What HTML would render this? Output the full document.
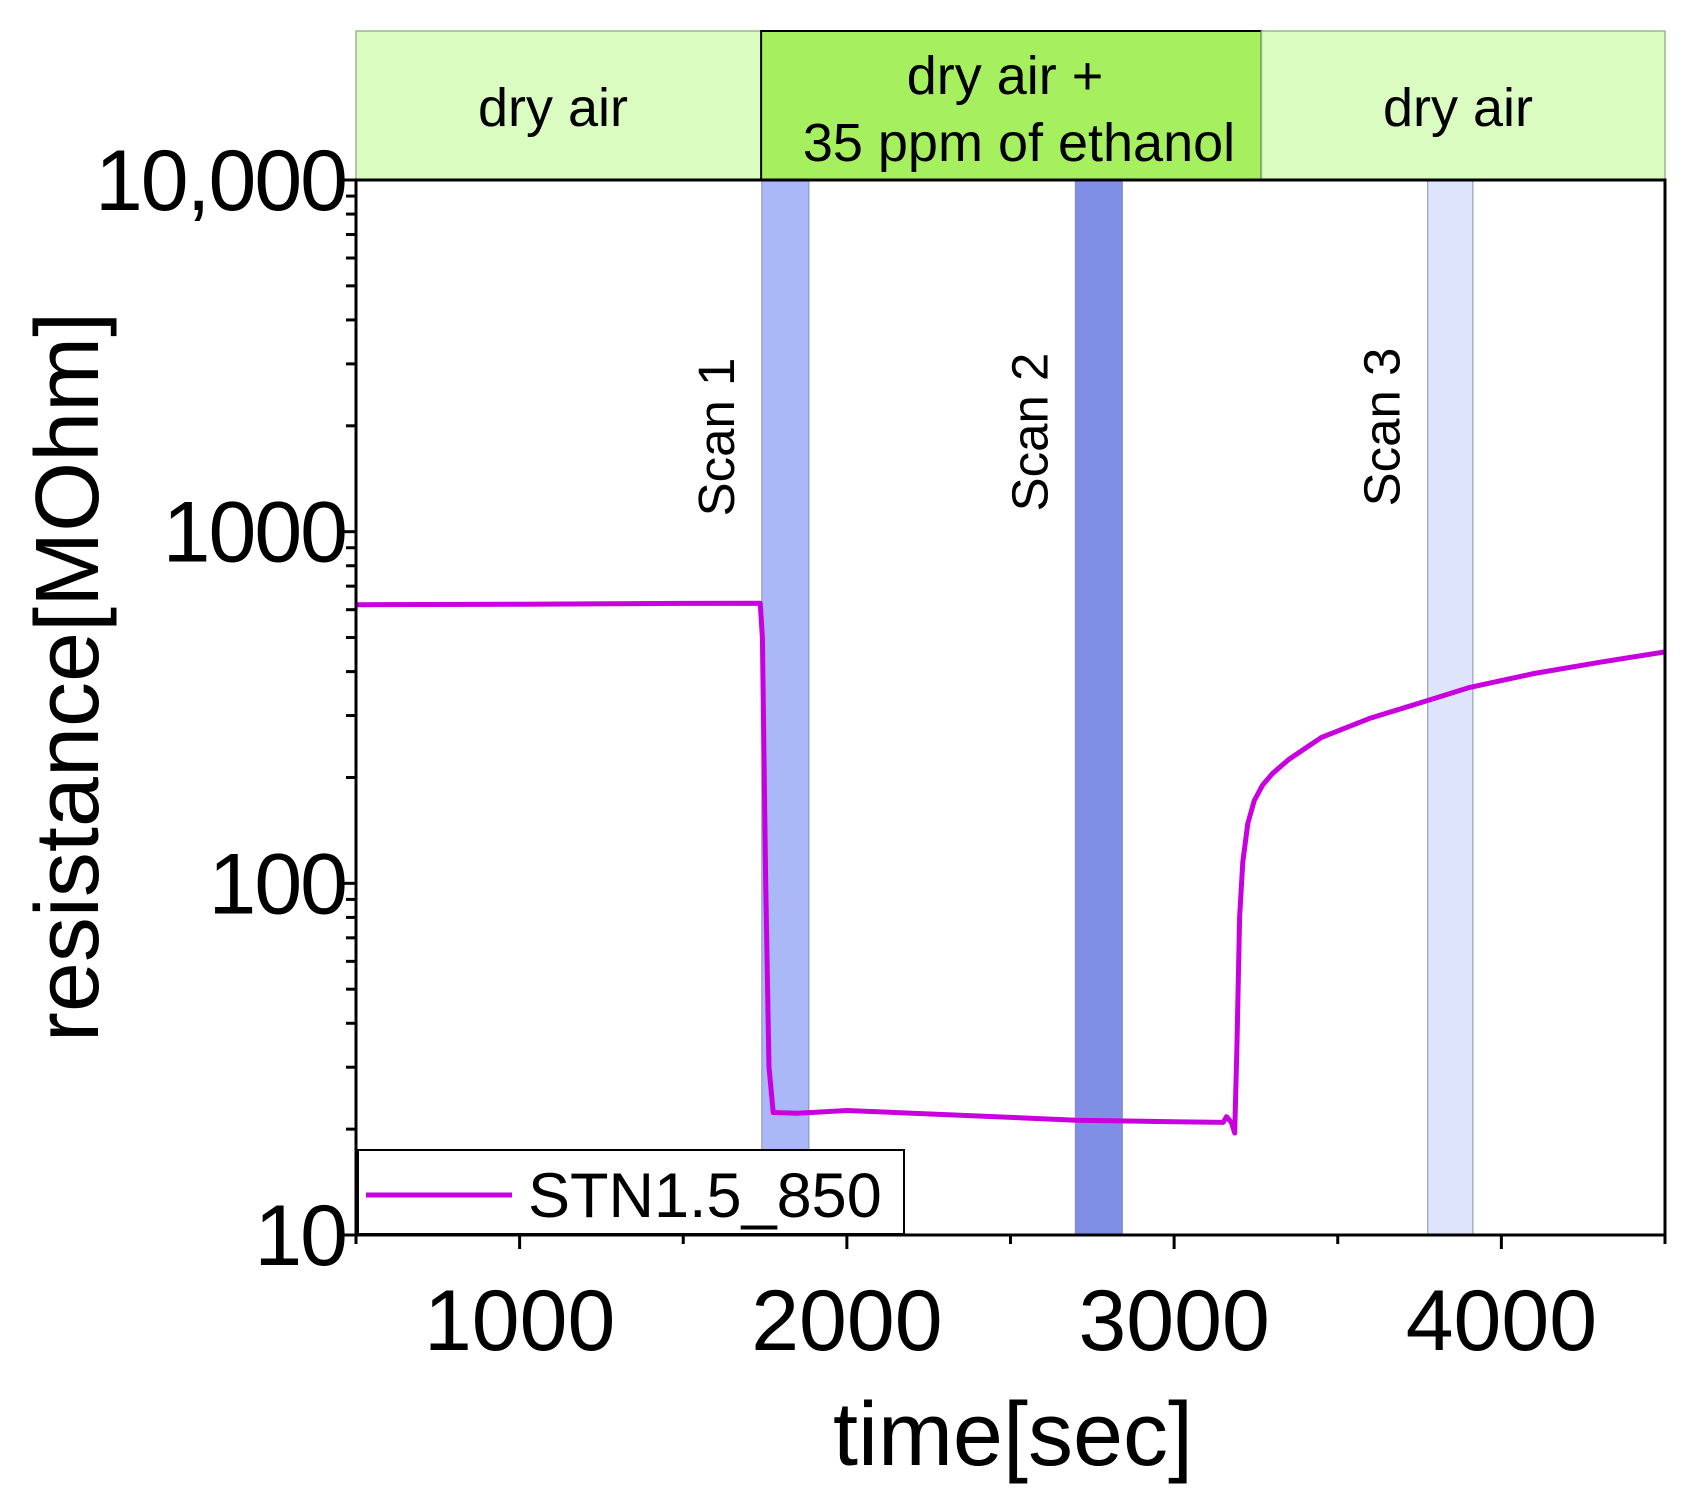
<!DOCTYPE html>
<html><head><meta charset="utf-8">
<style>
html,body{margin:0;padding:0;background:#fff;}
svg{display:block;font-family:"Liberation Sans",Arial,sans-serif;}
</style></head>
<body>
<svg id="chart" width="1699" height="1510" viewBox="0 0 1699 1510" xmlns="http://www.w3.org/2000/svg">
<rect width="1699" height="1510" fill="#fff"/>
<g id="bands"></g>
<g id="header"></g>
<g id="series"></g>
<g id="axes"></g>
<g id="labels"></g>
</svg>
<script>
// ---- data ----
const times = [500, 1000, 1500, 1735, 1742, 1752, 1762, 1775, 1850, 2000, 2300, 2700, 3000, 3150, 3160, 3175, 3185, 3192, 3200, 3210, 3225, 3245, 3270, 3300, 3350, 3450, 3600, 3770, 3900, 4100, 4300, 4500];
const resistance = [620, 622, 625, 626, 500, 100, 30, 22.3, 22.2, 22.6, 22.0, 21.2, 21.0, 20.9, 21.7, 20.9, 19.5, 35, 80, 115, 148, 172, 190, 205, 225, 260, 295, 330, 360, 395, 425, 455];
const xTicks = [1000, 2000, 3000, 4000];
const xTickLabels = ["1000", "2000", "3000", "4000"];
const yTicks = [10, 100, 1000, 10000];
const yTickLabels = ["10", "100", "1000", "10,000"];
const scanStarts = [1740, 2698, 3775];
const scanEnds = [1884, 2842, 3913];
const scanNames = ["Scan 1", "Scan 2", "Scan 3"];
const phaseStarts = [500, 1738, 3267];
const phaseEnds = [1738, 3267, 4500];

// ---- axis functions ----
const X0 = 356, X1 = 1665, Y0 = 1235, Y1 = 180;
const xMin = 500, xMax = 4500, yMinLog = 1, yMaxLog = 4;
const xs = t => X0 + (t - xMin) / (xMax - xMin) * (X1 - X0);
const ys = v => Y0 - (Math.log10(v) - yMinLog) / (yMaxLog - yMinLog) * (Y0 - Y1);
const NS = "http://www.w3.org/2000/svg";
function mk(tag, attrs, parent, text) {
  const e = document.createElementNS(NS, tag);
  for (const k in attrs) e.setAttribute(k, attrs[k]);
  if (text !== undefined) e.textContent = text;
  parent.appendChild(e);
  return e;
}
const bands = document.getElementById('bands');
const header = document.getElementById('header');
const series = document.getElementById('series');
const axes = document.getElementById('axes');
const labels = document.getElementById('labels');

// scan bands
const scanFills = ["#aab8f8", "#7f8fe6", "#dde4fb"];
scanStarts.forEach((s, i) => {
  const r = mk('rect', {x: xs(s), y: Y1, width: xs(scanEnds[i]) - xs(s), height: Y0 - Y1, fill: scanFills[i], stroke: "#8890b0", "stroke-width": 1}, bands);
  
  
  const cx = (xs(s) - 28);
  const t = mk('text', {x: 0, y: 0, transform: `translate(${cx},${437 - i*5}) rotate(-90)`, "font-size": 51, "text-anchor": "middle", fill: "#000"}, bands, scanNames[i]);
  
  
});

// header phases
const phaseFills = ["#dafcc0", "#a6f060", "#dafcc0"];
phaseStarts.forEach((s, i) => {
  const r = mk('rect', {x: xs(s), y: 31, width: xs(phaseEnds[i]) - xs(s), height: Y1 - 31, fill: phaseFills[i], stroke: i === 1 ? "#000" : "#9ab88a", "stroke-width": i === 1 ? 2 : 1.5}, header);
  
  
});
let h;
h = mk('text', {x: 553, y: 126, "font-size": 54, "text-anchor": "middle"}, header, "dry air");


h = mk('text', {x: 1005, y: 94, "font-size": 54, "text-anchor": "middle"}, header, "dry air +");


h = mk('text', {x: 1019, y: 161, "font-size": 54, "text-anchor": "middle"}, header, "35 ppm of ethanol");


h = mk('text', {x: 1458, y: 126, "font-size": 54, "text-anchor": "middle"}, header, "dry air");



// series
const d = times.map((t, i) => (i ? 'L' : 'M') + xs(t).toFixed(1) + ',' + ys(resistance[i]).toFixed(1)).join(' ');
const line = mk('path', {d: d, fill: "none", stroke: "#c800e0", "stroke-width": 5, "stroke-linejoin": "round"}, series);



// frame
const frame = mk('rect', {x: X0, y: Y1, width: X1 - X0, height: Y0 - Y1, fill: "none", stroke: "#000", "stroke-width": 3}, axes);



// x ticks
for (let t = 500; t <= 4500; t += 500) {
  const major = t % 1000 === 0;
  const tk = mk('line', {x1: xs(t), x2: xs(t), y1: Y0, y2: Y0 + (major ? 14 : 9), stroke: "#000", "stroke-width": 3}, axes);
  
  
}
xTicks.forEach((t, i) => {
  const l = mk('text', {x: xs(t), y: 1350, "font-size": 86, "text-anchor": "middle"}, labels, xTickLabels[i]);
  
  
});
// y ticks
for (let dec = 10; dec < 10000; dec *= 10) {
  for (let m = 1; m < 10; m++) {
    const v = dec * m;
    const major = m === 1;
    const tk = mk('line', {x1: X0 - (major ? 16 : 10), x2: X0, y1: ys(v), y2: ys(v), stroke: "#000", "stroke-width": 3}, axes);
    
    
  }
}
const topTick = mk('line', {x1: X0 - 16, x2: X0, y1: ys(10000), y2: ys(10000), stroke: "#000", "stroke-width": 3}, axes);


yTicks.forEach((v, i) => {
  const l = mk('text', {x: 346, y: ys(v) + 30, "font-size": 86, "text-anchor": "end", "letter-spacing": -2}, labels, yTickLabels[i]);
  
  
});

// axis titles
const xt = mk('text', {x: 1013, y: 1465, "font-size": 90, "text-anchor": "middle"}, labels, "time[sec]");


const yt = mk('text', {x: 0, y: 0, transform: "translate(98,677) rotate(-90)", "font-size": 90, "text-anchor": "middle"}, labels, "resistance[MOhm]");



// legend
const lg = mk('g', {}, labels);


mk('rect', {x: 358, y: 1150, width: 546, height: 84, fill: "#fff", stroke: "#000", "stroke-width": 2}, lg);
const ll = mk('line', {x1: 366, x2: 512, y1: 1195, y2: 1195, stroke: "#c800e0", "stroke-width": 5}, lg);


const lt = mk('text', {x: 528, y: 1217, "font-size": 63}, lg, "STN1.5_850");


</script>
</body></html>
